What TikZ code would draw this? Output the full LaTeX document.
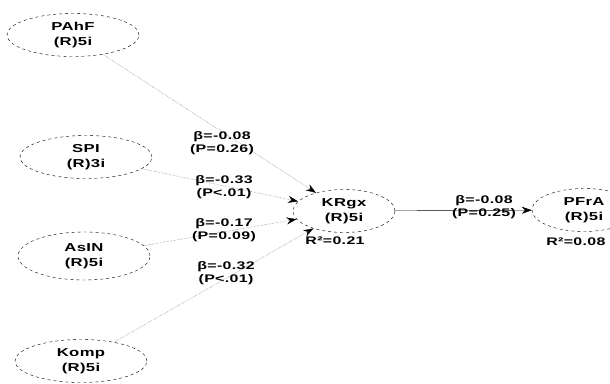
\documentclass[tikz,border=0pt]{standalone}
\usepackage{fontspec}
\setmainfont{Liberation Sans}
\newfontfamily\plsfont{Liberation Sans}[FakeStretch=1.45, LetterSpace=3]
\usetikzlibrary{shapes.geometric,arrows.meta}

\begin{document}
\begin{tikzpicture}[x=1pt, y=-1pt,
    construct/.style={ellipse, draw, dashed, thin, minimum width=132pt, minimum height=43pt, inner sep=0pt, align=center, font=\plsfont\fontsize{11.5}{14.5}\selectfont\bfseries},
    path/.style={-{Stealth[length=10pt, width=7pt, color=black]}, densely dotted, gray!70!black, thin},
    coef/.style={align=center, font=\plsfont\fontsize{11}{13}\selectfont\bfseries},
    rsq/.style={font=\plsfont\fontsize{11}{13}\selectfont\bfseries}
]
    \useasboundingbox (0,0) rectangle (610,383);
    \clip (0,0) rectangle (610,383);
    % konstrukte
    \node [construct] (pahf) at (73,35) {PAhF\\(R)5i};
    \node [construct] (spi) at (86,157) {SPI\\(R)3i};
    \node [construct, minimum height=48pt] (asin) at (84,256) {AsIN\\(R)5i};
    \node [construct] (komp) at (81,361) {Komp\\(R)5i};
    \node [construct, minimum width=102pt] (krgx) at (344,211) {KRgx\\(R)5i};
    \node [construct, minimum width=104pt] (pfra) at (584,210) {PFrA\\(R)5i};

    % pfade
    \draw [path] (pahf) -- (krgx);
    \draw [path] (spi) -- (krgx);
    \draw [path] (asin) -- (krgx);
    \draw [path] (komp) -- (krgx);
    \draw [-{Stealth[length=10pt, width=7pt]}, thin] (krgx) -- (pfra);

    % koeffizienten
    \node [coef] (c1) at (222,143) {β=-0.08\\(P=0.26)};
    \node [coef] (c2) at (224,187) {β=-0.33\\(P<.01)};
    \node [coef] (c3) at (224,230) {β=-0.17\\(P=0.09)};
    \node [coef] (c4) at (226,273) {β=-0.32\\(P<.01)};
    \node [coef] (c5) at (484,207) {β=-0.08\\(P=0.25)};
    \node [rsq] (r1) at (335,241) {R²=0.21};
    \node [rsq, anchor=east] (r2) at (609,242) {R²=0.08};
\end{tikzpicture}
\end{document}
